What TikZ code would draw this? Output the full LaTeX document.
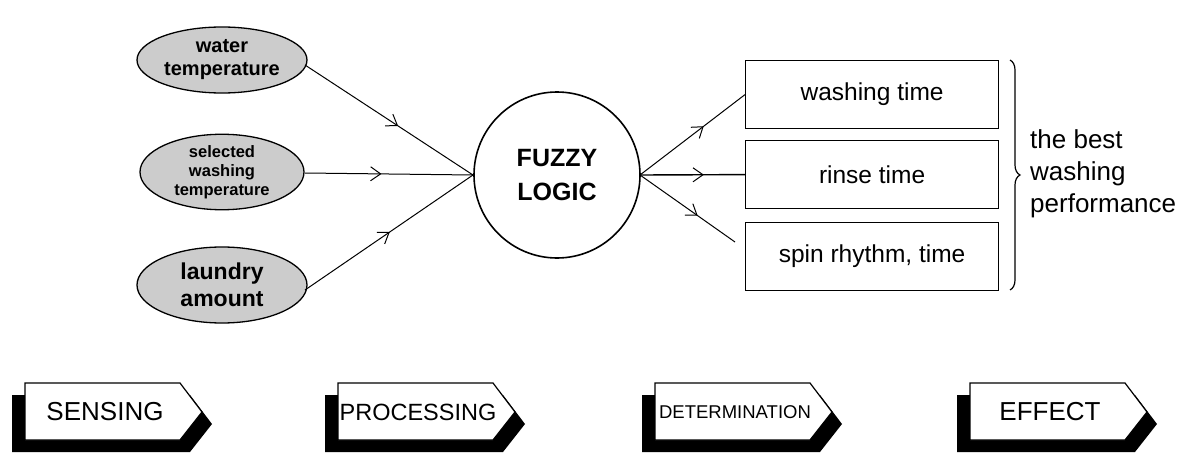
\documentclass[tikz,border=0pt]{standalone}
\usepackage{fontspec}
\setmainfont{Liberation Sans}
\usetikzlibrary{shapes.geometric,decorations.markings,decorations.pathreplacing}
\begin{document}
\begin{tikzpicture}[x=1pt,y=-1pt,
 ell/.style={draw,line width=1.3pt,fill=gray!40,ellipse,inner sep=0pt,font=\bfseries,align=center},
 obox/.style={draw,line width=1.2pt,minimum width=253pt,minimum height=68pt,anchor=north west,font=\fontsize{24.5}{28}\selectfont},
 mid/.style={line width=1pt,decoration={markings,mark=at position #1 with {\draw[line width=1pt] (-10pt,-7pt)--(0,0)--(-10pt,7pt);}},postaction={decorate}}]
\useasboundingbox (0,0) rectangle (1187,460);
\node[ell,minimum width=170pt,minimum height=66pt,font=\bfseries\fontsize{20}{23}\selectfont] (w) at (222,60) {water\\temperature};
\node[ell,minimum width=164pt,minimum height=70pt,font=\bfseries\fontsize{16.5}{19}\selectfont] (s) at (222,172) {selected\\washing\\temperature};
\node[ell,minimum width=170pt,minimum height=76pt,font=\bfseries\fontsize{23}{27}\selectfont] (l) at (222,285) {laundry\\amount};
\node[circle,draw,line width=1.6pt,minimum size=166pt,font=\bfseries\fontsize{25}{34}\selectfont,align=center] (f) at (557,175) {FUZZY\\LOGIC};
\coordinate (fl) at (473,175); \coordinate (fr) at (640,175);
\node[obox] (b1) at (745,60) {washing time};
\node[obox] (b2) at (745,140) {rinse time};
\node[obox] (b3) at (745,222) {spin rhythm, time};
\draw[mid=0.55] (305,65) -- (fl);
\draw[mid=0.45] (305,173) -- (fl);
\draw[mid=0.5] (305,290) -- (fl);
\draw[mid=0.6] (fr) -- (b1.west);
\draw[mid=0.6,line width=1.4pt] (fr) -- (b2.west);
\draw[mid=0.6] (fr) -- (735,242);
\draw[line width=1.2pt,decorate,decoration={brace,amplitude=10pt}] (1010,60) -- (1010,290);
\node[anchor=west,align=left,font=\fontsize{26}{32}\selectfont,inner sep=0pt] (t) at (1030,174) {the best\\washing\\performance};
\foreach \x/\n/\lab/\fs in {25/a/SENSING/26,338/b/PROCESSING/23.5,655/c/DETERMINATION/18.5,970/d/EFFECT/26}{
 \fill (\x-13,395) -- (\x+165,395) -- (\x+187,424) -- (\x+165,452) -- (\x-13,452) -- cycle;
 \draw[line width=1.2pt,fill=white] (\x,383) -- (\x+155,383) -- (\x+177,412) -- (\x+155,440) -- (\x,440) -- cycle;
 \node[font=\fontsize{\fs}{24}\selectfont] (\n) at (\x+80,412) {\lab};
}
\end{tikzpicture}
\end{document}
